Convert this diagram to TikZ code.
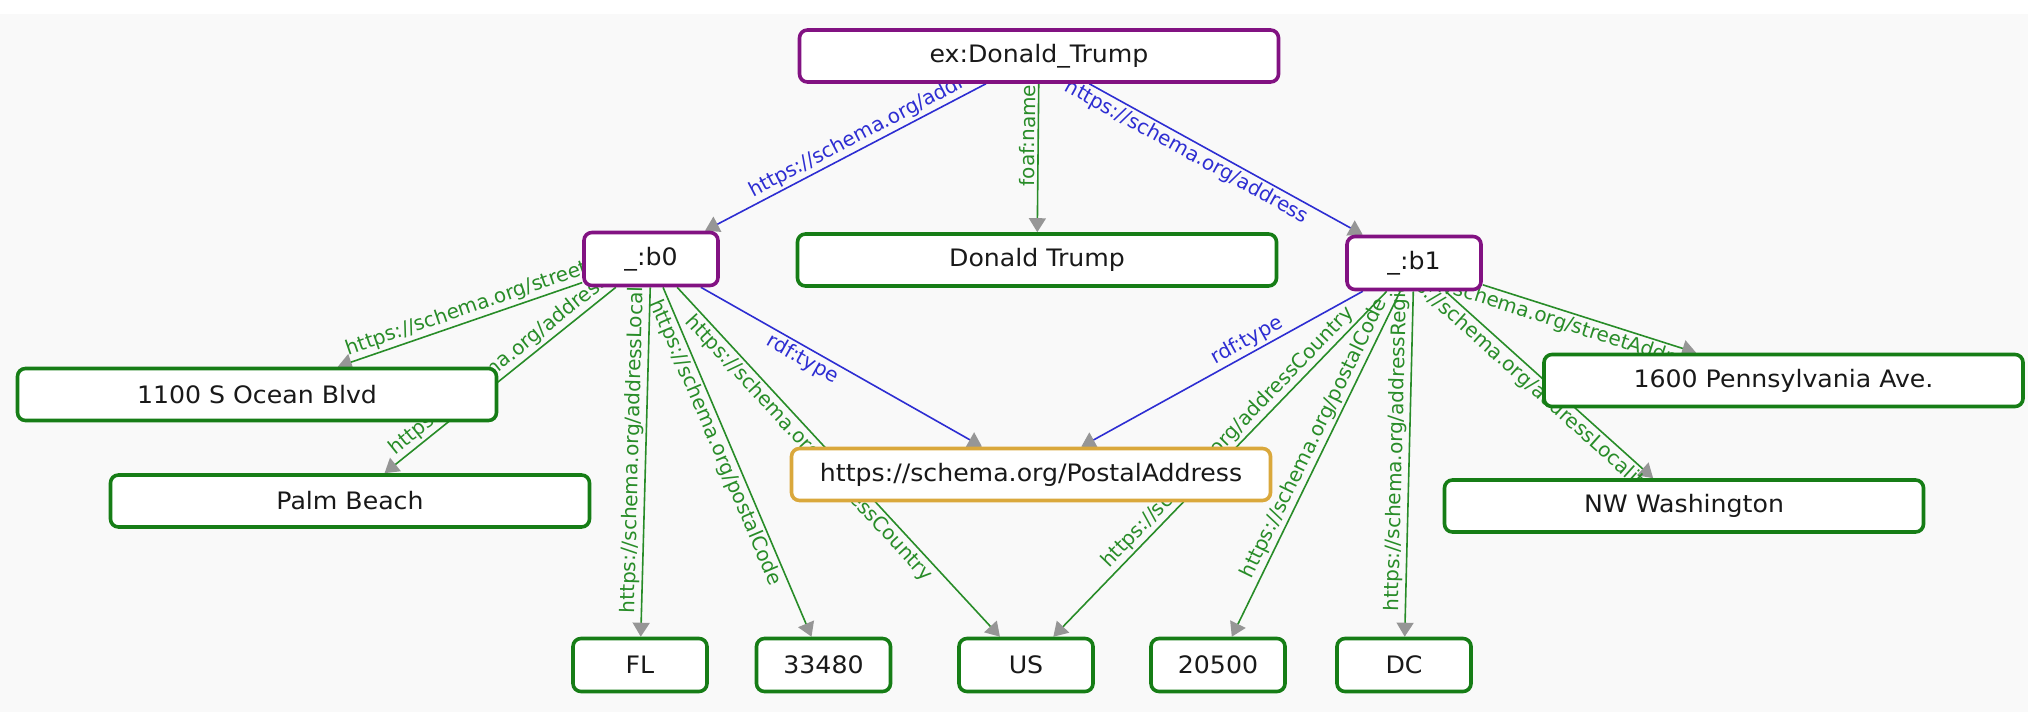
\documentclass[tikz,border=0pt]{standalone}
\usepackage{fontspec}
\setmainfont{DejaVu Sans}
\newfontfamily\nodefont{DejaVu Sans}[FakeStretch=1.05]
\usetikzlibrary{arrows.meta}
\definecolor{npurple}{RGB}{130,18,130}
\definecolor{ngreen}{RGB}{22,125,22}
\definecolor{ngold}{RGB}{218,168,60}
\definecolor{eblue}{RGB}{45,45,210}
\definecolor{egreen}{RGB}{40,140,40}
\definecolor{tipgray}{RGB}{150,150,150}
\definecolor{bgc}{RGB}{249,249,249}
\definecolor{txt}{RGB}{25,25,25}
\pgfdeclarelayer{bg}
\pgfdeclarelayer{edges}
\pgfsetlayers{bg,edges,main}
\newcommand\edgetext[6]{\path (#1.center) -- node[elab,pos=#3,#4,text=#5]{#6} (#2.center);}
\begin{document}
\begin{tikzpicture}[x=0.5pt,y=-0.5pt,
 nbox/.style={draw, fill=white, rounded corners=4pt, line width=1.8pt,
   font=\nodefont\fontsize{12}{14}\selectfont, text=txt, inner sep=0pt, align=center},
 wide/.style={nbox, minimum width=239.5pt, minimum height=26pt},
 narrow/.style={nbox, minimum width=67pt, minimum height=26.5pt},
 res/.style={draw=npurple}, lit/.style={draw=ngreen}, cls/.style={draw=ngold},
 conn/.style={line width=0.8pt, -{Triangle[length=7pt,width=8.5pt,color=tipgray]}},
 gconn/.style={conn, draw=egreen}, bconn/.style={conn, draw=eblue},
 elab/.style={sloped, inner sep=1.3pt, font=\fontsize{10}{12}\selectfont},
]
\useasboundingbox (0,0) rectangle (2028,712);
\begin{pgfonlayer}{bg}
\fill[bgc] (0,0) rectangle (2028,712);
\fill[white] (0,0) rectangle (2028,14);
\end{pgfonlayer}

% nodes
\node[wide,res] (dt) at (1039,56) {ex:Donald\textunderscore Trump};
\node[narrow,res] (b0) at (651,259) {\textunderscore:b0};
\node[wide,lit] (name) at (1037,260) {Donald Trump};
\node[narrow,res] (b1) at (1414,263) {\textunderscore:b1};
\node[wide,lit] (street0) at (257,394.5) {1100 S Ocean Blvd};
\node[wide,lit] (loc0) at (350,501) {Palm Beach};
\node[wide,cls] (pa) at (1031,474.5) {https://schema.org/PostalAddress};
\node[wide,lit] (street1) at (1783.5,380.5) {1600 Pennsylvania Ave.};
\node[wide,lit] (loc1) at (1684,506) {NW Washington};
\node[narrow,lit] (fl) at (640,665) {FL};
\node[narrow,lit] (zip0) at (823.5,665) {33480};
\node[narrow,lit] (us) at (1026,665) {US};
\node[narrow,lit] (zip1) at (1218,665) {20500};
\node[narrow,lit] (dc) at (1404,665) {DC};

\begin{pgfonlayer}{edges}
\draw[bconn] (dt) -- (b0);
\edgetext{dt}{b0}{.415}{above}{eblue}{https://schema.org/address}
\draw[gconn] (dt) -- (name);
\edgetext{dt}{name}{.39}{above}{egreen}{foaf:name}
\draw[bconn] (dt) -- (b1);
\edgetext{dt}{b1}{.41}{below}{eblue}{https://schema.org/address}

\draw[gconn] (b0) -- (street0);
\edgetext{b0}{street0}{.36}{above}{egreen}{https://schema.org/streetAddress}
\draw[gconn] (b0) -- (loc0);
\edgetext{b0}{loc0}{.39}{above}{egreen}{https://schema.org/addressRegion}
\draw[gconn] (b0) -- (fl);
\edgetext{b0}{fl}{.44}{above}{egreen}{https://schema.org/addressLocality}
\draw[gconn] (b0) -- (zip0);
\edgetext{b0}{zip0}{.44}{below}{egreen}{https://schema.org/postalCode}
\draw[gconn] (b0) -- (us);
\edgetext{b0}{us}{.445}{below}{egreen}{https://schema.org/addressCountry}
\draw[bconn] (b0) -- (pa);
\edgetext{b0}{pa}{.415}{below}{eblue}{rdf:type}

\draw[bconn] (b1) -- (pa);
\edgetext{b1}{pa}{.42}{above}{eblue}{rdf:type}
\draw[gconn] (b1) -- (us);
\edgetext{b1}{us}{.456}{above}{egreen}{https://schema.org/addressCountry}
\draw[gconn] (b1) -- (zip1);
\edgetext{b1}{zip1}{.45}{above}{egreen}{https://schema.org/postalCode}
\draw[gconn] (b1) -- (dc);
\edgetext{b1}{dc}{.44}{above}{egreen}{https://schema.org/addressRegion}
\draw[gconn] (b1) -- (street1);
\edgetext{b1}{street1}{.365}{below}{egreen}{https://schema.org/streetAddress}
\draw[gconn] (b1) -- (loc1);
\edgetext{b1}{loc1}{.42}{below}{egreen}{https://schema.org/addressLocality}
\end{pgfonlayer}
\end{tikzpicture}
\end{document}
